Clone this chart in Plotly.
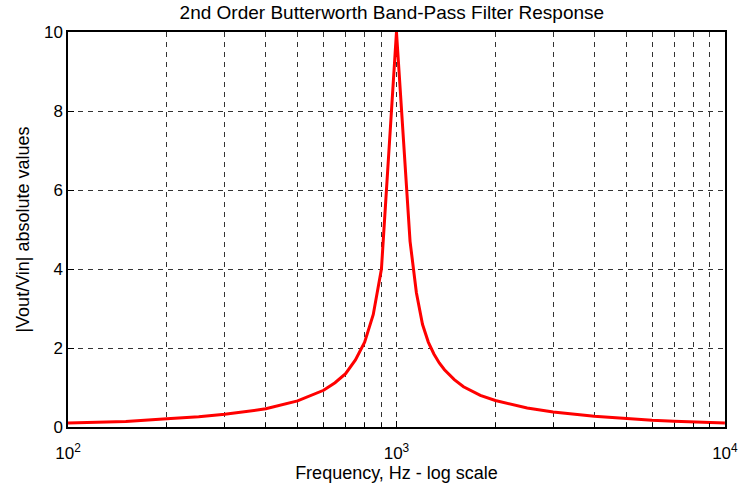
import plotly.graph_objects as go

# frequency response (Hz, |Vout/Vin|)
freq_hz = [100, 150, 200, 250, 300, 400, 500, 600, 650, 700, 750, 800, 850, 900,
           1000, 1100, 1150, 1200, 1250, 1300, 1350, 1400, 1500, 1600, 1800, 2000,
           2500, 3000, 4000, 5000, 6000, 7000, 8000, 9000, 10000]
gain = [0.10, 0.14, 0.21, 0.26, 0.32, 0.46, 0.66, 0.93, 1.12, 1.35, 1.70, 2.15, 2.85, 4.0,
        10.0, 4.7, 3.4, 2.6, 2.15, 1.85, 1.62, 1.45, 1.2, 1.02, 0.8, 0.67,
        0.48, 0.38, 0.27, 0.21, 0.17, 0.145, 0.127, 0.11, 0.10]

major_ticks = [100, 1000, 10000]
major_labels = ["10<sup>2</sup>", "10<sup>3</sup>", "10<sup>4</sup>"]
minor_ticks = [200, 300, 400, 500, 600, 700, 800, 900,
               2000, 3000, 4000, 5000, 6000, 7000, 8000, 9000]
y_ticks = [0, 2, 4, 6, 8, 10]

font = "Liberation Sans, Arial, sans-serif"
grid_col = "#333333"

fig = go.Figure()
fig.add_trace(go.Scatter(x=freq_hz, y=gain, mode='lines',
                         line=dict(color='#ff0000', width=3)))

fig.update_layout(
    width=738, height=487,
    margin=dict(l=68, r=13, t=32, b=60, autoexpand=False),
    paper_bgcolor='white', plot_bgcolor='white',
    showlegend=False,
    font=dict(family=font, size=17, color='black'),
    title=dict(text='2nd Order Butterworth Band-Pass Filter Response',
               x=0.531, xanchor='center', y=0.975, yanchor='middle',
               yref='container', font=dict(size=19)),
)

fig.update_xaxes(
    type='log', range=[2, 4.0002], automargin=False,
    tickvals=major_ticks, ticktext=major_labels,
    ticks='inside', ticklen=6, tickcolor='black',
    ticklabelstandoff=10, ticklabeloverflow='allow',
    showgrid=True, gridcolor=grid_col, griddash='5px,5px', gridwidth=1,
    minor=dict(tickvals=minor_ticks, ticks='inside', ticklen=4, tickcolor='black',
               showgrid=True, gridcolor=grid_col, griddash='5px,5px', gridwidth=1),
    showline=True, linecolor='black', linewidth=1.5, mirror=True,
    zeroline=False,
    title=dict(text='Frequency, Hz - log scale', standoff=4, font=dict(size=18)),
)
fig.update_yaxes(
    range=[0, 10], tickvals=y_ticks, automargin=False,
    ticks='inside', ticklen=6, tickcolor='black',
    showgrid=True, gridcolor=grid_col, griddash='5px,5px', gridwidth=1,
    showline=True, linecolor='black', linewidth=1.5, mirror=True,
    zeroline=False,
    title=dict(text='|Vout/Vin| absolute values', standoff=10, font=dict(size=18)),
)

# drop the page's default body margin so the figure sits at the window origin
fig.write_html("out.html", config={'displayModeBar': False},
               post_script="document.body.style.margin='0';")
